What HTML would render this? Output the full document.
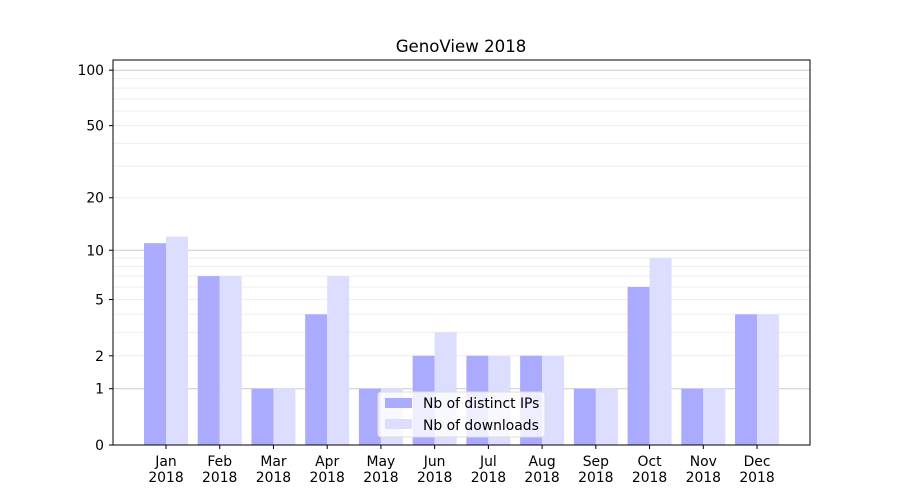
<!DOCTYPE html>
<html><head><meta charset="utf-8"><style>
body{margin:0;background:#fff;font-family:"DejaVu Sans",sans-serif;}
</style></head><body>
<svg id="chart" width="900" height="500" xmlns="http://www.w3.org/2000/svg" font-family="DejaVu Sans, sans-serif">
<rect width="900" height="500" fill="#fff"/>
<text x="461" y="52" font-size="16.6" text-anchor="middle">GenoView 2018</text>
<g id="grid"></g><g id="bars"></g>
<rect x="113" y="60" width="697" height="385" fill="none" stroke="#000" stroke-width="1"/>
<g id="axes"></g>
<g>
<rect x="378" y="392" width="167" height="45" rx="3" fill="#fff" fill-opacity="0.8" stroke="#ddd"/>
<rect x="385" y="398" width="27" height="10" fill="#aaaaff"/>
<text x="423" y="408" font-size="13.9">Nb of distinct IPs</text>
<rect x="385" y="419" width="27" height="10" fill="#ddddff"/>
<text x="423" y="430" font-size="13.9">Nb of downloads</text>
</g>
</svg>
<script>
const months=["Jan","Feb","Mar","Apr","May","Jun","Jul","Aug","Sep","Oct","Nov","Dec"];
const ips=[11,7,1,4,1,2,2,2,1,6,1,4];
const downloads=[12,7,1,7,1,3,2,2,1,9,1,4];
const yTicks=[0,1,2,5,10,20,50,100];
const NS="http://www.w3.org/2000/svg";
function y(v){return 445-187*Math.log10(1+v);}
function x(i){return 166+i*53.73;}
function mk(tag,attrs,parent){const e=document.createElementNS(NS,tag);for(const k in attrs)e.setAttribute(k,attrs[k]);parent.appendChild(e);return e;}
const grid=document.getElementById('grid'),bars=document.getElementById('bars'),axes=document.getElementById('axes');
const minors=[2,3,4,5,6,7,8,9,20,30,40,50,60,70,80,90];
minors.forEach(v=>{const l=mk('line',{x1:113,x2:810,y1:y(v),y2:y(v),stroke:'#eee','stroke-width':1},grid);

});
[1,10,100].forEach(v=>{const l=mk('line',{x1:113,x2:810,y1:y(v),y2:y(v),stroke:'#ccc','stroke-width':1},grid);

});
months.forEach((m,i)=>{
 const b1=mk('rect',{x:x(i)-22,y:y(ips[i]),width:22,height:445-y(ips[i]),fill:'#aaaaff'},bars);
 
 
 const b2=mk('rect',{x:x(i),y:y(downloads[i]),width:22,height:445-y(downloads[i]),fill:'#ddddff'},bars);
 
 
 mk('line',{x1:x(i),x2:x(i),y1:445,y2:449,stroke:'#000'},axes);
 const t=mk('text',{x:x(i),y:466,'font-size':13.9,'text-anchor':'middle'},axes);
 
 
 mk('tspan',{x:x(i),dy:0},t).textContent=m;
 mk('tspan',{x:x(i),dy:16},t).textContent='2018';
});
yTicks.forEach(v=>{
 mk('line',{x1:109,x2:113,y1:y(v),y2:y(v),stroke:'#000'},axes);
 const t=mk('text',{x:104,y:y(v)+5,'font-size':13.9,'text-anchor':'end'},axes);
 
 
 t.textContent=v;
});
</script>
</body></html>
